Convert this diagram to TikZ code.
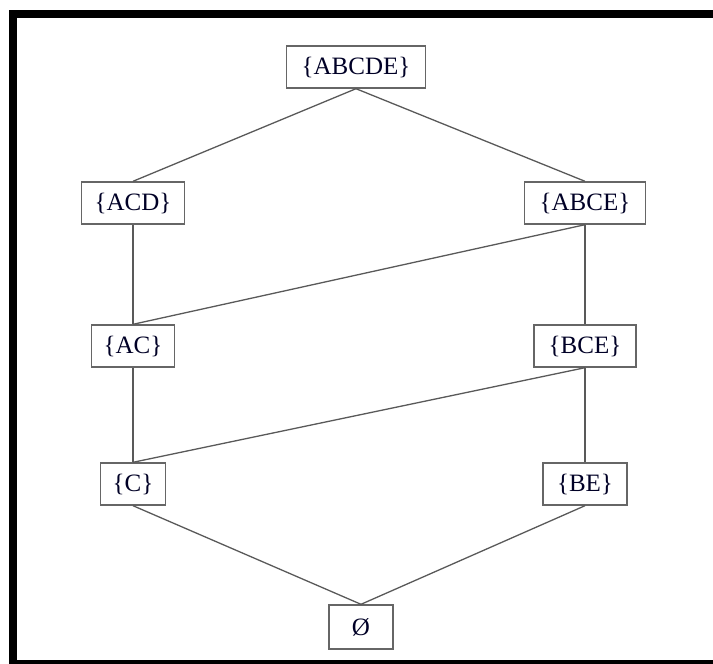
\documentclass[tikz,border=0pt]{standalone}
\usepackage{fontspec}
\setmainfont{Liberation Serif}
\begin{document}
\begin{tikzpicture}[x=1pt,y=-1pt,
  setbox/.style={draw=black!60, line width=1.4pt, fill=white, minimum height=42pt,
    inner xsep=12pt, inner ysep=0pt, font=\fontsize{25}{30}\selectfont, text=black!85!blue},
  link/.style={draw=black!65, line width=1.3pt}]
\useasboundingbox (0,0) rectangle (713,664);
\draw[line width=8pt, black] (720,14) -- (12.5,14) -- (12.5,664) -- (720,664);
\node[setbox, minimum width=139pt] (abcde) at (356,67) {\{ABCDE\}};
\node[setbox, minimum width=103pt] (acd) at (133,203) {\{ACD\}};
\node[setbox, minimum width=121pt] (abce) at (585,203) {\{ABCE\}};
\node[setbox, minimum width=83pt] (ac) at (133,346) {\{AC\}};
\node[setbox, minimum width=102pt] (bce) at (585,346) {\{BCE\}};
\node[setbox, minimum width=63pt] (c) at (133,484) {\{C\}};
\node[setbox, minimum width=84pt] (be) at (585,484) {\{BE\}};
\node[setbox, minimum width=64pt, minimum height=44pt] (empty) at (361,627) {Ø};
\draw[link] (abcde.south) -- (acd.north);
\draw[link] (abcde.south) -- (abce.north);
\draw[link] (acd.south) -- (ac.north);
\draw[link] (abce.south) -- (ac.north);
\draw[link] (abce.south) -- (bce.north);
\draw[link] (ac.south) -- (c.north);
\draw[link] (bce.south) -- (c.north);
\draw[link] (bce.south) -- (be.north);
\draw[link] (c.south) -- (empty.north);
\draw[link] (be.south) -- (empty.north);
\end{tikzpicture}
\end{document}
